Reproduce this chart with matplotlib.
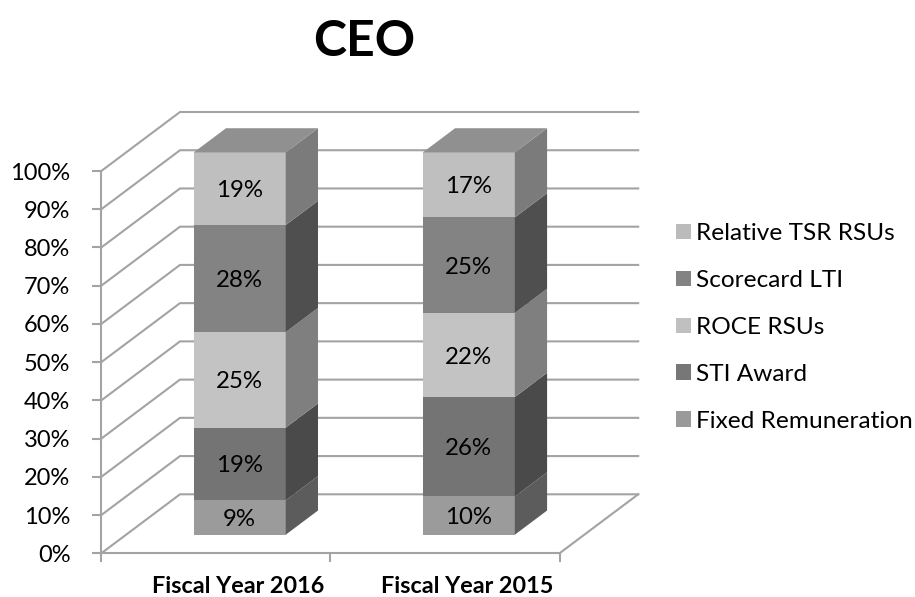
import matplotlib
matplotlib.use("Agg")
import matplotlib.pyplot as plt
from matplotlib.patches import Polygon, Patch
from matplotlib.transforms import Affine2D
import numpy as np

plt.rcParams['font.family'] = ['Lato', 'DejaVu Sans']

categories = ["Fiscal Year 2016", "Fiscal Year 2015"]
series_names = ["Fixed Remuneration", "STI Award", "ROCE RSUs", "Scorecard LTI", "Relative TSR RSUs"]
fixed_remuneration = [9, 10]
sti_award = [19, 26]
roce_rsus = [25, 22]
scorecard_lti = [28, 25]
relative_tsr_rsus = [19, 17]
y_ticks = list(range(0, 101, 10))

all_series = [fixed_remuneration, sti_award, roce_rsus, scorecard_lti, relative_tsr_rsus]
front_colors = ["#9B9B9B", "#747474", "#C3C3C3", "#838383", "#BFBFBF"]
side_colors = ["#5C5C5C", "#4A4A4A", "#7F7F7F", "#4F4F4F", "#7B7B7B"]
legend_colors = ["#9A9A9A", "#777777", "#C0C0C0", "#838383", "#BBBBBB"]
top_color = "#909090"
line_color = "#A3A3A3"

W, H = 915, 597
fig = plt.figure(figsize=(W / 100, H / 100), dpi=100)
L, R, T, B = 101.3, 559.5, 171.0, 553.3
ax = fig.add_axes([L / W, 1 - B / H, (R - L) / W, (B - T) / H])
ax.set_xlim(0, 2)
ax.set_ylim(0, 100)

px_x = (R - L) / 2
px_y = (B - T) / 100
DX = 78.7 / px_x          # full depth vector in data units
DY = 59.0 / px_y
z0, z1 = 0.315, 0.725     # bar depth range
bar_w = 92.0 / px_x
shift = -0.004

lw = 1.5
# walls and floor
for v in y_ticks:
    ax.plot([0, DX, 2 + DX], [v, v + DY, v + DY], color=line_color, lw=lw,
            clip_on=False, zorder=1, solid_joinstyle='miter')
ax.plot([2, 2 + DX], [0, DY], color=line_color, lw=lw, clip_on=False, zorder=1)

front = Affine2D().translate(z0 * DX, z0 * DY) + ax.transData
ddx, ddy = (z1 - z0) * DX, (z1 - z0) * DY

centers = np.arange(len(categories)) + 0.5 + shift
bottom = np.zeros(len(categories))
for vals, fc, sc in zip(all_series, front_colors, side_colors):
    vals = np.array(vals, dtype=float)
    ax.bar(centers, vals, bar_w, bottom=bottom, color=fc, linewidth=0,
           transform=front, clip_on=False, zorder=3)
    for c, v, b in zip(centers, vals, bottom):
        xr = c + bar_w / 2
        ax.add_patch(Polygon([(xr, b), (xr + ddx, b + ddy), (xr + ddx, b + v + ddy), (xr, b + v)],
                             closed=True, facecolor=sc, edgecolor='none',
                             transform=front, clip_on=False, zorder=3))
        ax.text(c, b + v / 2, f"{int(v)}%", ha='center', va='center_baseline', fontsize=17.3,
                color='black', transform=front, zorder=5)
    bottom = bottom + vals
for c, b in zip(centers, bottom):
    xl, xr = c - bar_w / 2, c + bar_w / 2
    ax.add_patch(Polygon([(xl, b), (xr, b), (xr + ddx, b + ddy), (xl + ddx, b + ddy)],
                         closed=True, facecolor=top_color, edgecolor='none',
                         transform=front, clip_on=False, zorder=3))

# axes
for s in ('top', 'right'):
    ax.spines[s].set_visible(False)
for s in ('left', 'bottom'):
    ax.spines[s].set_color(line_color)
    ax.spines[s].set_linewidth(lw)
ax.set_yticks(y_ticks)
ax.set_yticklabels([f"{v}%" for v in y_ticks], fontsize=17)
ax.tick_params(axis='y', length=6.2, width=lw, color=line_color, pad=16, labelcolor='black')
ax.set_xticks([0, 1, 2])
ax.set_xticklabels([])
ax.tick_params(axis='x', which='major', length=6.2, width=lw, color=line_color)
ax.set_xticks(centers + z0 * DX - 0.006, minor=True)
ax.set_xticklabels(categories, minor=True, fontsize=16.8, fontweight='bold')
ax.tick_params(axis='x', which='minor', length=0, pad=16.5)

fig.text(364.5 / W, 1 - 41 / H, "CEO", ha='center', va='center', fontsize=36, fontweight='bold')

handles = [Patch(facecolor=c, edgecolor='none', label=n) for c, n in zip(legend_colors, series_names)]
fs = 17.6
leg = fig.legend(handles[::-1], series_names[::-1], loc='center left',
                 bbox_to_anchor=(676 / W, 1 - 327.5 / H), fontsize=fs, frameon=False,
                 borderpad=0, borderaxespad=0, handlelength=10.8 / fs, handleheight=10.8 / fs,
                 handletextpad=0.22, labelspacing=1.06)

fig.savefig("out.png", dpi=100, facecolor='white')
